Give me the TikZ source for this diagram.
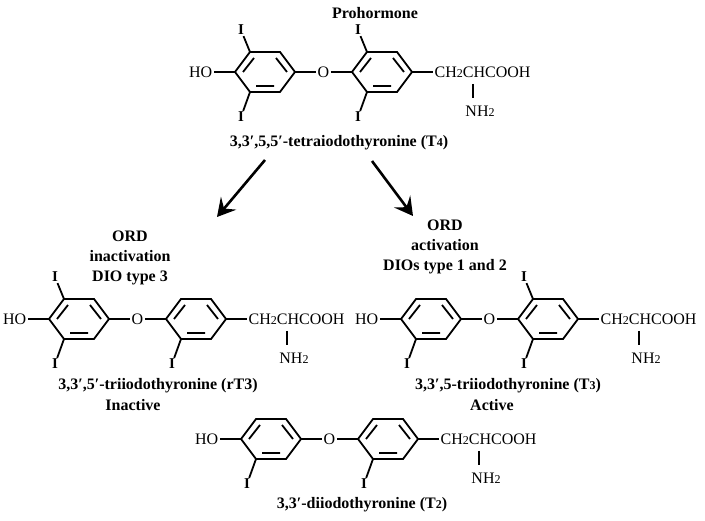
\documentclass[tikz,border=0pt]{standalone}
\usepackage{fontspec}
\setmainfont{Liberation Serif}
\newcommand{\sm}[1]{{\fontsize{12}{12}\selectfont #1}}
\tikzset{bond/.style = {line width=1.8pt},
  atom/.style = {inner sep=1.5pt, font=\fontsize{16}{18}\selectfont},
  iod/.style = {inner sep=1pt, font=\fontsize{15}{18}\selectfont\bfseries},
  lbl/.style = {inner sep=0pt, align=center, font=\fontsize{16}{20}\selectfont\bfseries},
  big/.style = {line width=2.6pt, -{Stealth[length=18pt,width=20pt,inset=7pt]}},
  ring/.pic = {
    \draw[bond] (-30,0) coordinate (-L) -- (-15,-20) coordinate (-UL) -- (15,-20) coordinate (-UR)
      -- (30,0) coordinate (-R) -- (15,20) coordinate (-LR) -- (-15,20) coordinate (-LL) -- cycle;
    \draw[bond, shorten <=2pt, shorten >=2pt] (-22,0) -- (-11,-14) (11,-14) -- (22,0) (11,14) -- (-11,14);
  },
  thyro/.pic = {
    \pic (-a) at (0,0) {ring};
    \pic (-b) at (117,0) {ring};
    \node[atom, anchor=east] (-ho) at (-51,0) {HO};
    \node[atom] (-o) at (58.5,0) {O};
    \node[atom, anchor=west] (-ch) at (168,0) {CH\sm{2}CHCOOH};
    \node[atom] (-nh) at (215,39) {NH\sm{2}};
    \draw[bond] (-ho) -- (-a-L) (-a-R) -- (-o) -- (-b-L) (-b-R) -- (-ch);
    \draw[line width=1.3pt] (208,12) -- (208,26);
  }
}
\usetikzlibrary{arrows.meta}

\begin{document}
\begin{tikzpicture}[x=1pt, y=-1pt]
\useasboundingbox (0,0) rectangle (705,521);
% prohormone
\node[lbl] (pro) at (375,13) {Prohormone};
\pic (t4) at (265,72) {thyro};
\node[lbl] (t4l) at (339,143) {3,3′,5,5′-tetraiodothyronine (T\sm{4})};
% two ways
\coordinate (fl) at (265,160);
\coordinate (tl) at (217,217);
\coordinate (fr) at (372,161);
\coordinate (tr) at (413,216);
\draw[big] (fl) -- (tl);
\draw[big] (fr) -- (tr);
\node[lbl] (rtord) at (130,258) {ORD\\inactivation\\DIO type 3};
\node[lbl] (t3ord) at (445,247) {ORD\\activation\\DIOs type 1 and 2};
% rT3, T3, T2
\pic (rt) at (79,319) {thyro};
\pic (t3) at (431,319) {thyro};
\pic (t2) at (271,439) {thyro};
\node[lbl] (rtl) at (158,386) {3,3′,5′-triiodothyronine (rT3)};
\node[lbl] (rtin) at (133,405) {Inactive};
\node[lbl] (t3l) at (508,386) {3,3′,5-triiodothyronine (T\sm{3})};
\node[lbl] (t3ac) at (492,405) {Active};
\node[lbl] (t2l) at (362,505) {3,3′-diiodothyronine (T\sm{2})};
% iodines
\foreach \v in {t4-a-UL, t4-b-UL, rt-a-UL, t3-b-UL} {
  \node[iod] (\v-I) at ([shift={(-9,-22)}]\v) {I};
  \draw[bond] (\v) -- (\v-I);
}
\foreach \v in {t4-a-LL, t4-b-LL, rt-a-LL, rt-b-LL, t3-a-LL, t3-b-LL, t2-a-LL, t2-b-LL} {
  \node[iod] (\v-I) at ([shift={(-9,25)}]\v) {I};
  \draw[bond] (\v) -- (\v-I);
}
\end{tikzpicture}
\end{document}
